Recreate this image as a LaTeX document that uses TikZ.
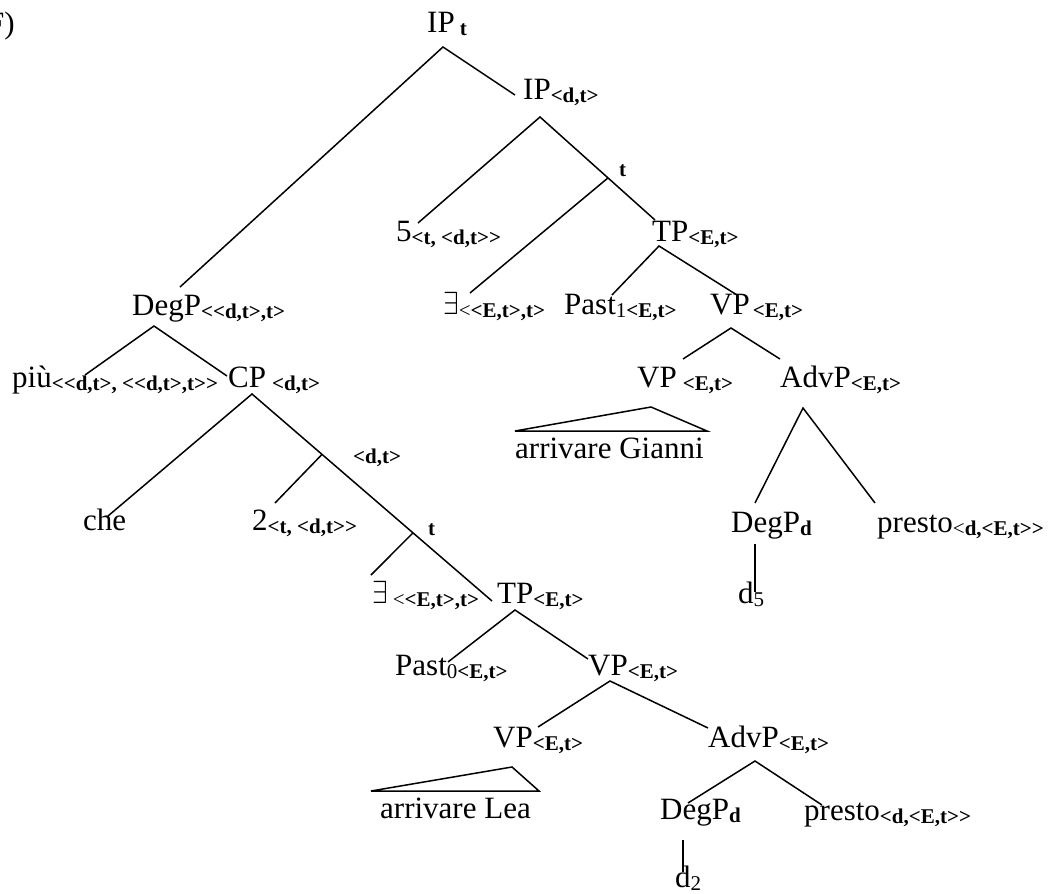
\documentclass[tikz,border=0pt]{standalone}
\usepackage{fontspec}
\usepackage{graphicx}
\setmainfont{Liberation Serif}[Ligatures=TeXOff]
\usetikzlibrary{calc}
\newcommand{\subB}[1]{\raisebox{-3pt}{\fontsize{21}{21}\selectfont\bfseries #1}}
\newcommand{\subR}[1]{\raisebox{-3pt}{\fontsize{21}{21}\selectfont #1}}
\newcommand{\ex}{{\fontsize{10}{10}\selectfont\scalebox{2.8}[3.2]{$\exists$}}}
\begin{document}
\begin{tikzpicture}[x=1pt,y=-1pt,
  lbl/.style={anchor=base west,inner sep=0pt,font=\fontsize{31}{31}\selectfont},
  sublbl/.style={anchor=base west,inner sep=0pt,font=\fontsize{21}{21}\selectfont\bfseries},
  edge/.style={line width=1.5pt,line join=miter}]
\clip (0,0) rectangle (1053,894);
% labels
\node[lbl,anchor=base east] (F) at (15,33) {(F)};
\node[lbl] (IPt) at (427,32) {IP\kern5pt\subB{t}};
\node[lbl] (IPdt) at (523,99) {IP\subB{<d,t>}};
\node[lbl] (five) at (396,241) {5\subB{<t, <d,t>>}};
\node[lbl] (TPu) at (652,241) {TP\subB{<E,t>}};
\node[lbl] (ExU) at (443,314) {\ex\subB{{\mdseries<}<E,t>,t>}};
\node[lbl] (PastU) at (564,314) {Past\subR{1}\subB{<E,t>}};
\node[lbl] (VPu) at (710,314) {VP\kern3pt\subB{<E,t>}};
\node[lbl] (DegPu) at (132,315) {DegP\subB{<<d,t>,t>}};
\node[lbl] (piu) at (12,387) {più\subB{<<d,t>, <<d,t>,t>>}};
\node[lbl] (CP) at (228,387) {CP\kern6pt\subB{<d,t>}};
\node[lbl] (VPm) at (637,387) {VP\kern6pt\subB{<E,t>}};
\node[lbl] (AdvPu) at (780,387) {AdvP\subB{<E,t>}};
\node[lbl] (Gianni) at (515,458) {arrivare Gianni};
\node[lbl] (che) at (83,530) {che};
\node[lbl] (two) at (252,530) {2\subB{<t, <d,t>>}};
\node[sublbl] (dtl) at (353,463) {<d,t>};
\node[sublbl] (tu) at (619,176) {t};
\node[sublbl] (tl) at (428,535) {t};
\node[lbl] (DegPdU) at (731,532) {DegP\subB{d}};
\node[lbl] (prestoU) at (877,532) {presto\subB{{\mdseries<}d,<E,t>>}};
\node[lbl] (d5) at (738,603) {d\subR{5}};
\node[lbl] (ExL) at (372,603) {\ex\kern5pt\subB{{\mdseries<}<E,t>,t>}};
\node[lbl] (TPl) at (497,603) {TP\subB{<E,t>}};
\node[lbl] (PastL) at (395,675) {Past\subR{0}\subB{<E,t>}};
\node[lbl] (VPl) at (588,675) {VP\subB{<E,t>}};
\node[lbl] (VPll) at (493,747) {VP\subB{<E,t>}};
\node[lbl] (AdvPl) at (708,747) {AdvP\subB{<E,t>}};
\node[lbl] (Lea) at (380,818) {arrivare Lea};
\node[lbl] (DegPdL) at (660,819) {DegP\subB{d}};
\node[lbl] (prestoL) at (804,820) {presto\subB{<d,<E,t>>}};
\node[lbl] (d2) at (675,887) {d\subR{2}};
% coordinates
\coordinate (aIPt) at (443,47);
\coordinate (tDegPu) at (180,287);
\coordinate (tIPdt) at (515,95);
\coordinate (aIPdt) at (540,117);
\coordinate (tfive) at (418,223);
\coordinate (tTPu) at (655,220);
\coordinate (j1) at ($(aIPdt)!0.5913!(tTPu)$);
\coordinate (tExU) at (470,293);
\coordinate (aTPu) at (659,246);
\coordinate (tPastU) at (612,295);
\coordinate (tVPu) at (737,295);
\coordinate (aVPu) at (731,328);
\coordinate (tVPm) at (683,359);
\coordinate (tAdvPu) at (780,359);
\coordinate (gA) at (651,407);
\coordinate (gL) at (515,431);
\coordinate (gR) at (707,431);
\coordinate (aAdvPu) at (803,408);
\coordinate (tDegPdU) at (755,503);
\coordinate (tprestoU) at (875,503);
\coordinate (bDegPdU) at (755,544);
\coordinate (td5) at (755,592);
\coordinate (aDegPu) at (154,326);
\coordinate (tpiu) at (85,375);
\coordinate (tCP) at (227,376);
\coordinate (aCP) at (252,394);
\coordinate (tche) at (108,516);
\coordinate (tTPl) at (492,601);
\coordinate (j2) at ($(aCP)!0.2917!(tTPl)$);
\coordinate (j3) at ($(aCP)!0.6708!(tTPl)$);
\coordinate (ttwo) at (275,503);
\coordinate (tExL) at (371,575);
\coordinate (aTPl) at (515,610);
\coordinate (tPastL) at (448,662);
\coordinate (tVPl) at (588,659);
\coordinate (aVPl) at (610,681);
\coordinate (tVPll) at (538,727);
\coordinate (tAdvPl) at (708,728);
\coordinate (lA) at (512,767);
\coordinate (lL) at (371,791);
\coordinate (lR) at (539,791);
\coordinate (aAdvPl) at (755,761);
\coordinate (tDegPdL) at (688,803);
\coordinate (tprestoL) at (822,805);
\coordinate (bDegPdL) at (683,840);
\coordinate (td2) at (683,872);
% edges
\draw[edge] (tDegPu) -- (aIPt) -- (tIPdt);
\draw[edge] (tfive) -- (aIPdt) -- (tTPu);
\draw[edge] (j1) -- (tExU);
\draw[edge] (tPastU) -- (aTPu) -- (tVPu);
\draw[edge] (tVPm) -- (aVPu) -- (tAdvPu);
\draw[edge] (gA) -- (gL) -- (gR) -- cycle;
\draw[edge] (tDegPdU) -- (aAdvPu) -- (tprestoU);
\draw[edge] (bDegPdU) -- (td5);
\draw[edge] (tpiu) -- (aDegPu) -- (tCP);
\draw[edge] (tche) -- (aCP) -- (tTPl);
\draw[edge] (j2) -- (ttwo);
\draw[edge] (j3) -- (tExL);
\draw[edge] (tPastL) -- (aTPl) -- (tVPl);
\draw[edge] (tVPll) -- (aVPl) -- (tAdvPl);
\draw[edge] (lA) -- (lL) -- (lR) -- cycle;
\draw[edge] (tDegPdL) -- (aAdvPl) -- (tprestoL);
\draw[edge] (bDegPdL) -- (td2);
\end{tikzpicture}
\end{document}
